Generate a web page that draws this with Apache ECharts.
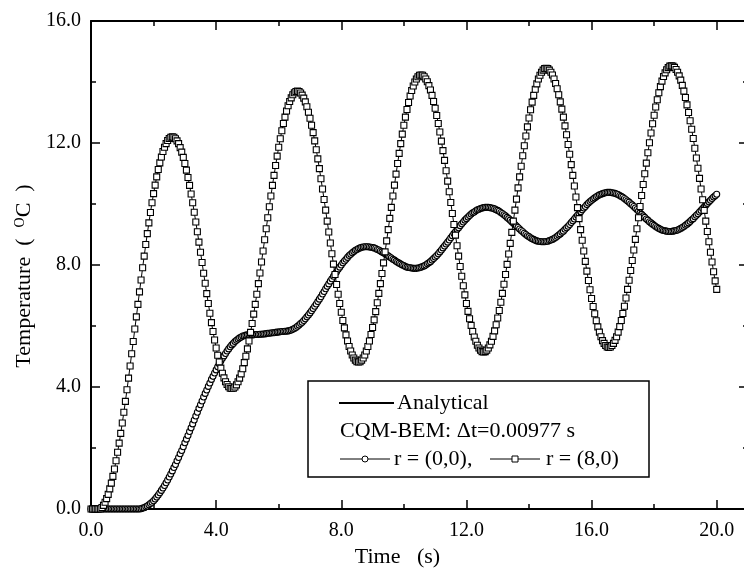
<!DOCTYPE html>
<html>
<head>
<meta charset="utf-8">
<script src="https://cdn.jsdelivr.net/npm/echarts@6/dist/echarts.min.js"></script>
<style>html,body{margin:0;padding:0;background:#fff}#chart{width:744px;height:577px}</style>
</head>
<body>
<div id="chart"></div>
<script>
// Sampling times (s)
const time = [
0,0.05,0.1,0.15,0.2,0.25,0.3,0.35,0.4,0.45,0.5,0.55,0.6,0.65,0.7,0.75,0.8,0.85,0.9,0.95,
1,1.05,1.1,1.15,1.2,1.25,1.3,1.35,1.4,1.45,1.5,1.55,1.6,1.65,1.7,1.75,1.8,1.85,1.9,1.95,
2,2.05,2.1,2.15,2.2,2.25,2.3,2.35,2.4,2.45,2.5,2.55,2.6,2.65,2.7,2.75,2.8,2.85,2.9,2.95,
3,3.05,3.1,3.15,3.2,3.25,3.3,3.35,3.4,3.45,3.5,3.55,3.6,3.65,3.7,3.75,3.8,3.85,3.9,3.95,
4,4.05,4.1,4.15,4.2,4.25,4.3,4.35,4.4,4.45,4.5,4.55,4.6,4.65,4.7,4.75,4.8,4.85,4.9,4.95,
5,5.05,5.1,5.15,5.2,5.25,5.3,5.35,5.4,5.45,5.5,5.55,5.6,5.65,5.7,5.75,5.8,5.85,5.9,5.95,
6,6.05,6.1,6.15,6.2,6.25,6.3,6.35,6.4,6.45,6.5,6.55,6.6,6.65,6.7,6.75,6.8,6.85,6.9,6.95,
7,7.05,7.1,7.15,7.2,7.25,7.3,7.35,7.4,7.45,7.5,7.55,7.6,7.65,7.7,7.75,7.8,7.85,7.9,7.95,
8,8.05,8.1,8.15,8.2,8.25,8.3,8.35,8.4,8.45,8.5,8.55,8.6,8.65,8.7,8.75,8.8,8.85,8.9,8.95,
9,9.05,9.1,9.15,9.2,9.25,9.3,9.35,9.4,9.45,9.5,9.55,9.6,9.65,9.7,9.75,9.8,9.85,9.9,9.95,
10,10.05,10.1,10.15,10.2,10.25,10.3,10.35,10.4,10.45,10.5,10.55,10.6,10.65,10.7,10.75,10.8,10.85,10.9,10.95,
11,11.05,11.1,11.15,11.2,11.25,11.3,11.35,11.4,11.45,11.5,11.55,11.6,11.65,11.7,11.75,11.8,11.85,11.9,11.95,
12,12.05,12.1,12.15,12.2,12.25,12.3,12.35,12.4,12.45,12.5,12.55,12.6,12.65,12.7,12.75,12.8,12.85,12.9,12.95,
13,13.05,13.1,13.15,13.2,13.25,13.3,13.35,13.4,13.45,13.5,13.55,13.6,13.65,13.7,13.75,13.8,13.85,13.9,13.95,
14,14.05,14.1,14.15,14.2,14.25,14.3,14.35,14.4,14.45,14.5,14.55,14.6,14.65,14.7,14.75,14.8,14.85,14.9,14.95,
15,15.05,15.1,15.15,15.2,15.25,15.3,15.35,15.4,15.45,15.5,15.55,15.6,15.65,15.7,15.75,15.8,15.85,15.9,15.95,
16,16.05,16.1,16.15,16.2,16.25,16.3,16.35,16.4,16.45,16.5,16.55,16.6,16.65,16.7,16.75,16.8,16.85,16.9,16.95,
17,17.05,17.1,17.15,17.2,17.25,17.3,17.35,17.4,17.45,17.5,17.55,17.6,17.65,17.7,17.75,17.8,17.85,17.9,17.95,
18,18.05,18.1,18.15,18.2,18.25,18.3,18.35,18.4,18.45,18.5,18.55,18.6,18.65,18.7,18.75,18.8,18.85,18.9,18.95,
19,19.05,19.1,19.15,19.2,19.25,19.3,19.35,19.4,19.45,19.5,19.55,19.6,19.65,19.7,19.75,19.8,19.85,19.9,19.95,
20
];

// Temperature at r = (0,0)  (circles)
const tempR00 = [
0,0,0,0,0,0,0,0,0,0,0,0,0,0,0,0,0,0,0,0,
0,0,0,0,0,0,0,0,0,0,0,0,0.01,0.03,0.04,0.07,0.10,0.14,0.18,0.22,
0.27,0.33,0.39,0.46,0.53,0.61,0.69,0.77,0.86,0.95,1.05,1.15,1.25,1.36,1.46,1.58,1.69,1.81,1.92,2.04,
2.17,2.29,2.41,2.54,2.66,2.79,2.92,3.05,3.17,3.30,3.42,3.54,3.67,3.79,3.90,4.02,4.13,4.25,4.35,4.46,
4.56,4.66,4.76,4.85,4.94,5.02,5.10,5.18,5.25,5.32,5.38,5.43,5.49,5.53,5.57,5.61,5.64,5.67,5.68,5.70,
5.71,5.71,5.71,5.71,5.71,5.72,5.72,5.72,5.73,5.73,5.74,5.74,5.75,5.76,5.76,5.77,5.78,5.78,5.79,5.80,
5.80,5.81,5.82,5.82,5.83,5.83,5.84,5.85,5.87,5.89,5.92,5.95,5.99,6.03,6.08,6.12,6.18,6.24,6.30,6.36,
6.43,6.50,6.57,6.65,6.72,6.80,6.88,6.96,7.05,7.13,7.22,7.30,7.38,7.47,7.55,7.63,7.71,7.78,7.86,7.93,
8.00,8.07,8.13,8.19,8.25,8.31,8.35,8.40,8.44,8.48,8.51,8.54,8.56,8.58,8.59,8.60,8.60,8.60,8.59,8.58,
8.57,8.56,8.54,8.51,8.49,8.46,8.43,8.40,8.37,8.33,8.30,8.26,8.23,8.19,8.16,8.12,8.09,8.06,8.03,8.00,
7.98,7.95,7.93,7.92,7.91,7.90,7.89,7.89,7.89,7.90,7.91,7.93,7.95,7.97,8.00,8.04,8.07,8.11,8.16,8.21,
8.26,8.31,8.37,8.43,8.49,8.56,8.62,8.69,8.75,8.82,8.89,8.96,9.03,9.09,9.16,9.22,9.29,9.35,9.41,9.47,
9.52,9.57,9.62,9.67,9.71,9.74,9.78,9.81,9.83,9.85,9.87,9.88,9.89,9.89,9.89,9.88,9.87,9.86,9.84,9.81,
9.79,9.76,9.72,9.69,9.65,9.61,9.56,9.52,9.47,9.42,9.37,9.33,9.28,9.23,9.18,9.13,9.09,9.04,9.00,8.96,
8.93,8.89,8.86,8.84,8.81,8.79,8.78,8.77,8.76,8.76,8.76,8.77,8.78,8.80,8.82,8.84,8.87,8.90,8.94,8.98,
9.02,9.07,9.11,9.17,9.22,9.27,9.33,9.39,9.45,9.51,9.57,9.63,9.69,9.75,9.81,9.87,9.92,9.98,10.03,10.08,
10.12,10.16,10.20,10.24,10.27,10.30,10.32,10.34,10.36,10.37,10.38,10.38,10.38,10.37,10.36,10.35,10.33,10.31,10.28,10.25,
10.22,10.18,10.14,10.10,10.06,10.01,9.97,9.92,9.87,9.82,9.77,9.71,9.66,9.61,9.56,9.51,9.47,9.42,9.38,9.34,
9.30,9.26,9.23,9.20,9.17,9.15,9.13,9.12,9.11,9.10,9.10,9.10,9.11,9.12,9.13,9.15,9.17,9.20,9.23,9.26,
9.30,9.34,9.38,9.43,9.48,9.52,9.58,9.63,9.68,9.74,9.79,9.85,9.91,9.96,10.02,10.07,10.12,10.18,10.23,10.27,
10.32
];

// Temperature at r = (8,0)  (squares)
const tempR80 = [
0,0,0,0,0,0,0.01,0.05,0.12,0.22,0.34,0.48,0.66,0.85,1.07,1.31,1.58,1.86,2.16,2.48,
2.82,3.17,3.53,3.91,4.29,4.69,5.09,5.49,5.90,6.30,6.71,7.12,7.51,7.91,8.29,8.67,9.03,9.38,9.72,10.04,
10.34,10.62,10.89,11.13,11.35,11.54,11.72,11.86,11.98,12.08,12.15,12.19,12.2,12.19,12.14,12.07,11.98,11.85,11.70,11.53,
11.33,11.11,10.87,10.61,10.33,10.04,9.73,9.41,9.09,8.75,8.42,8.08,7.73,7.40,7.06,6.74,6.42,6.11,5.82,5.54,
5.28,5.04,4.82,4.62,4.45,4.30,4.17,4.08,4.01,3.96,3.95,3.96,4.00,4.07,4.17,4.29,4.43,4.60,4.80,5.01,
5.25,5.51,5.79,6.08,6.39,6.71,7.04,7.39,7.74,8.10,8.46,8.83,9.19,9.55,9.91,10.26,10.61,10.94,11.26,11.57,
11.86,12.14,12.40,12.64,12.85,13.05,13.22,13.36,13.48,13.58,13.65,13.69,13.70,13.69,13.64,13.57,13.47,13.35,13.19,13.01,
12.81,12.58,12.34,12.07,11.78,11.48,11.16,10.83,10.49,10.15,9.80,9.44,9.08,8.72,8.37,8.03,7.69,7.36,7.04,6.74,
6.45,6.18,5.94,5.71,5.51,5.33,5.18,5.05,4.95,4.88,4.83,4.82,4.83,4.88,4.95,5.05,5.18,5.33,5.51,5.72,
5.95,6.20,6.47,6.76,7.07,7.39,7.72,8.07,8.43,8.79,9.16,9.53,9.89,10.26,10.62,10.98,11.33,11.66,11.98,12.29,
12.58,12.85,13.10,13.33,13.54,13.72,13.87,14.00,14.10,14.17,14.22,14.23,14.22,14.17,14.10,14.01,13.88,13.74,13.56,13.36,
13.14,12.90,12.64,12.36,12.06,11.75,11.43,11.09,10.75,10.40,10.05,9.69,9.33,8.98,8.63,8.29,7.95,7.63,7.32,7.02,
6.74,6.48,6.24,6.02,5.82,5.64,5.50,5.37,5.28,5.21,5.16,5.15,5.16,5.21,5.28,5.38,5.50,5.66,5.84,6.04,
6.26,6.51,6.78,7.07,7.37,7.69,8.02,8.36,8.71,9.07,9.44,9.80,10.16,10.53,10.89,11.24,11.58,11.91,12.23,12.53,
12.82,13.09,13.34,13.56,13.76,13.94,14.10,14.22,14.32,14.39,14.44,14.45,14.44,14.39,14.32,14.23,14.10,13.95,13.78,13.58,
13.35,13.11,12.85,12.56,12.27,11.95,11.63,11.29,10.94,10.59,10.23,9.88,9.52,9.16,8.81,8.46,8.12,7.80,7.49,7.19,
6.90,6.64,6.40,6.17,5.97,5.80,5.65,5.52,5.43,5.36,5.31,5.30,5.31,5.36,5.43,5.53,5.65,5.80,5.98,6.18,
6.41,6.65,6.92,7.20,7.50,7.82,8.15,8.49,8.84,9.19,9.55,9.92,10.28,10.64,10.99,11.34,11.68,12.01,12.33,12.63,
12.91,13.18,13.42,13.65,13.85,14.03,14.18,14.30,14.40,14.47,14.52,14.53,14.52,14.48,14.41,14.32,14.20,14.06,13.89,13.70,
13.49,13.25,13.00,12.73,12.45,12.15,11.83,11.51,11.17,10.84,10.49,10.14,9.79,9.44,9.10,8.76,8.42,8.10,7.78,7.48,
7.20
];

// Axis ticks
const xTicks = [0, 4, 8, 12, 16, 20];
const yTicks = [0, 4, 8, 12, 16];
const legendTexts = ['Analytical', 'CQM-BEM: \u0394t=0.00977 s', 'r = (0,0),', 'r = (8,0)'];

const FONT = '"Liberation Serif", "Times New Roman", serif';
const pairs = (xs, ys) => xs.map((x, i) => [x, ys[i]]);
const xFmt = v => xTicks.indexOf(v) >= 0 ? v.toFixed(1) : '';
const yFmt = v => yTicks.indexOf(v) >= 0 ? v.toFixed(1) : '';

function axisBase(extra) {
  return Object.assign({
    type: 'value',
    axisLine: { show: true, onZero: false, lineStyle: { color: '#000', width: 2 } },
    axisTick: { show: true, inside: true, length: 9, lineStyle: { color: '#000', width: 1.5 } },
    minorTick: { show: true, splitNumber: 2, length: 5, lineStyle: { color: '#000', width: 1.5 } },
    splitLine: { show: false },
    minorSplitLine: { show: false }
  }, extra);
}

const chart = echarts.init(document.getElementById('chart'), null, { renderer: 'canvas' });

const option = {
  animation: false,
  backgroundColor: '#fff',
  grid: { left: 91, top: 21, width: 657, height: 488, containLabel: false, outerBoundsMode: 'none' },
  xAxis: [
    axisBase({
      position: 'bottom', min: 0, max: 21, interval: 4,
      axisLabel: { color: '#000', fontFamily: FONT, fontSize: 20, margin: 12, showMaxLabel: false, formatter: xFmt },
      name: 'Time   (s)', nameLocation: 'middle', nameGap: 29,
      nameTextStyle: { color: '#000', fontFamily: FONT, fontSize: 22, padding: [0, 44, 0, 0] }
    }),
    axisBase({
      position: 'top', min: 0, max: 21, interval: 4,
      axisLabel: { show: false }
    })
  ],
  yAxis: [
    axisBase({
      position: 'left', min: 0, max: 16, interval: 4,
      axisLabel: { color: '#000', fontFamily: FONT, fontSize: 20, margin: 10, formatter: yFmt },
      name: 'Temperature  (  {sup|O}C  )', nameLocation: 'middle', nameGap: 49, nameRotate: 90,
      nameTextStyle: {
        color: '#000', fontFamily: FONT, fontSize: 22, padding: [0, 22, 0, 0],
        rich: { sup: { fontFamily: FONT, fontSize: 14, color: '#000', verticalAlign: 'top', padding: [0, 0, 8, 0] } }
      }
    }),
    axisBase({
      position: 'right', min: 0, max: 16, interval: 4,
      axisLabel: { show: false }
    })
  ],
  series: [
    {
      name: 'r = (0,0)', type: 'line', xAxisIndex: 0, yAxisIndex: 0,
      data: pairs(time, tempR00),
      symbol: 'circle', symbolSize: 6, showSymbol: true, showAllSymbol: true,
      lineStyle: { color: '#000', width: 1 },
      itemStyle: { color: '#fff', borderColor: '#000', borderWidth: 1.1 },
      emphasis: { disabled: true }, z: 2
    },
    {
      name: 'r = (8,0)', type: 'line', xAxisIndex: 0, yAxisIndex: 0,
      data: pairs(time, tempR80),
      symbol: 'rect', symbolSize: 6, showSymbol: true, showAllSymbol: true,
      lineStyle: { color: '#000', width: 1 },
      itemStyle: { color: '#fff', borderColor: '#000', borderWidth: 1.1 },
      emphasis: { disabled: true }, z: 3
    }
  ],
  graphic: {
    elements: [
      { type: 'rect', shape: { x: 308, y: 381, width: 341, height: 96 }, style: { fill: '#fff', stroke: '#000', lineWidth: 1.5 }, z: 10 },
      { type: 'line', shape: { x1: 339, y1: 403, x2: 394, y2: 403 }, style: { stroke: '#000', lineWidth: 2 }, z: 11 },
      { type: 'text', x: 397, y: 403, style: { text: legendTexts[0], font: '22px ' + FONT, fill: '#000', verticalAlign: 'middle' }, z: 11 },
      { type: 'text', x: 340, y: 431, style: { text: legendTexts[1], font: '22px ' + FONT, fill: '#000', verticalAlign: 'middle' }, z: 11 },
      { type: 'line', shape: { x1: 340, y1: 459, x2: 390, y2: 459 }, style: { stroke: '#000', lineWidth: 1 }, z: 11 },
      { type: 'circle', shape: { cx: 365, cy: 459, r: 3 }, style: { fill: '#fff', stroke: '#000', lineWidth: 1 }, z: 12 },
      { type: 'text', x: 394, y: 459, style: { text: legendTexts[2], font: '22px ' + FONT, fill: '#000', verticalAlign: 'middle' }, z: 11 },
      { type: 'line', shape: { x1: 490, y1: 459, x2: 540, y2: 459 }, style: { stroke: '#000', lineWidth: 1 }, z: 11 },
      { type: 'rect', shape: { x: 512, y: 456, width: 6, height: 6 }, style: { fill: '#fff', stroke: '#000', lineWidth: 1 }, z: 12 },
      { type: 'text', x: 546, y: 459, style: { text: legendTexts[3], font: '22px ' + FONT, fill: '#000', verticalAlign: 'middle' }, z: 11 }
    ]
  }
};

chart.setOption(option);
</script>
</body>
</html>
